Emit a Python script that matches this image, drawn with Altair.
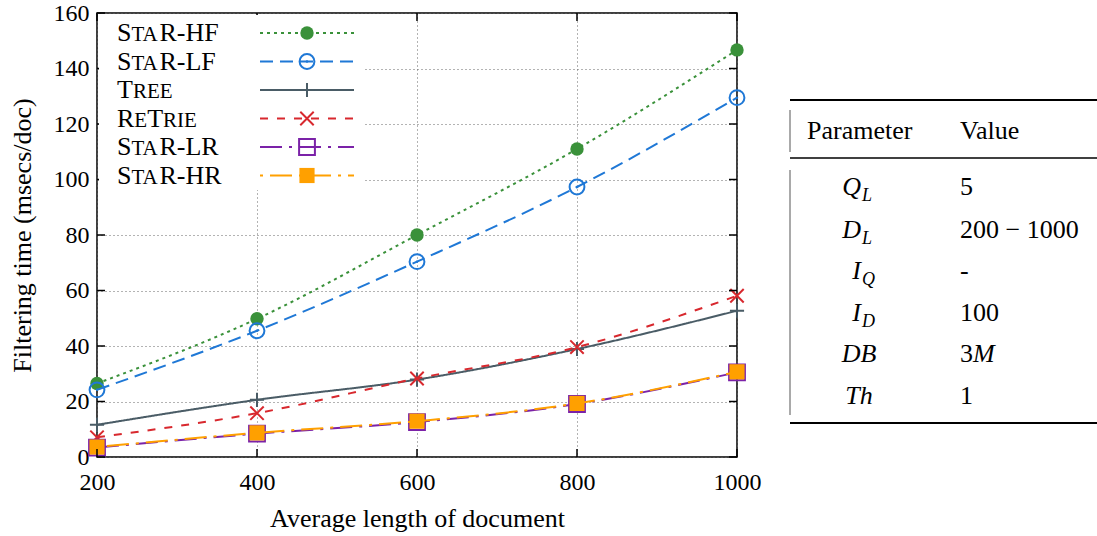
import altair as alt
import pandas as pd

# ---- data -------------------------------------------------------------
doc_len = [200, 400, 600, 800, 1000]
series_names = ["StaR-HF", "StaR-LF", "Tree", "ReTrie", "StaR-LR", "StaR-HR"]
# legend names split into (text, is_small_cap) runs
legend_runs = [
    [("S", 0), ("TA", 1), ("R-HF", 0)],
    [("S", 0), ("TA", 1), ("R-LF", 0)],
    [("T", 0), ("REE", 1)],
    [("R", 0), ("E", 1), ("T", 0), ("RIE", 1)],
    [("S", 0), ("TA", 1), ("R-LR", 0)],
    [("S", 0), ("TA", 1), ("R-HR", 0)],
]
star_hf = [26.5, 49.8, 80.0, 111.0, 146.7]
star_lf = [24.2, 45.5, 70.4, 97.3, 129.5]
tree = [11.6, 20.6, 27.9, 38.9, 52.7]
retrie = [7.1, 15.8, 28.3, 39.6, 58.1]
star_lr = [3.4, 8.4, 12.6, 19.1, 30.5]
star_hr = [3.6, 8.7, 12.9, 19.3, 30.7]
series_values = [star_hf, star_lf, tree, retrie, star_lr, star_hr]

y_ticks = [0, 20, 40, 60, 80, 100, 120, 140, 160]
x_ticks = [200, 400, 600, 800, 1000]

param_main = ["Q", "D", "I", "I", "DB", "Th"]
param_sub = ["L", "L", "Q", "D", "", ""]
value_text = ["5", "200 − 1000", "-", "100", "3", "1"]
value_italic = ["", "", "", "", "M", ""]

# ---- styles -----------------------------------------------------------
FONT = "'Liberation Serif', 'Times New Roman', 'DejaVu Serif', serif"
W, H = 640, 444
CAP, SMALL = 26, 21
# advance widths (em) of the serif face, used to place small-cap runs
ADV = {"S": .556, "T": .611, "A": .722, "R": .667, "E": .611, "I": .333,
       "H": .722, "F": .556, "L": .611, "-": .333}

styles = {
    "StaR-HF": dict(color="#3a913a", dash=[3, 4], shape="circle", filled=True, size=180),
    "StaR-LF": dict(color="#1f78d6", dash=[13, 7], shape="circle", filled=False, size=220),
    "Tree": dict(color="#4a5c66", dash=[1, 0], shape="M-1,0L1,0M0,-1L0,1", filled=False, size=200),
    "ReTrie": dict(color="#d8282e", dash=[8, 9], shape="M-1,-1L1,1M-1,1L1,-1", filled=False, size=180),
    "StaR-LR": dict(color="#7b22a8", dash=[22, 7, 3, 7], shape="square", filled=False, size=250),
    "StaR-HR": dict(color="#ffa000", dash=[3, 7, 22, 7], shape="square", filled=True, size=230),
}

x_scale = alt.Scale(domain=[200, 1000], nice=False, zero=False)
y_scale = alt.Scale(domain=[0, 160], nice=False)

x_axis = alt.Axis(values=x_ticks, format="d", ticks=False, domain=False, grid=True,
                  gridDash=[1, 3], gridColor="#666", labelFont=FONT,
                  labelFontSize=24, labelColor="black", labelPadding=13,
                  title="Average length of document", titleFont=FONT,
                  titleFontSize=26, titleFontWeight="normal", titleColor="black",
                  titlePadding=11, labelFlush=False)
y_axis = alt.Axis(values=y_ticks, format="d", ticks=False, domain=False, grid=True,
                  gridDash=[1, 3], gridColor="#666", labelFont=FONT,
                  labelFontSize=24, labelColor="black", labelPadding=8,
                  title="Filtering time (msecs/doc)", titleFont=FONT,
                  titleFontSize=26, titleFontWeight="normal", titleColor="black",
                  titlePadding=18)

frames = []
for name, vals in zip(series_names, series_values):
    frames.append(pd.DataFrame({"len": doc_len, "time": vals, "series": name}))
df = pd.concat(frames, ignore_index=True)

one = pd.DataFrame({"k": [0]})
layers = []


def text_at(txt, x, y, size=CAP, align="left", baseline="alphabetic", style="normal"):
    return alt.Chart(one).mark_text(
        text=txt, font=FONT, fontSize=size, fontStyle=style, align=align,
        baseline=baseline, color="black").encode(x=alt.value(x), y=alt.value(y))


# invisible base layer that carries the axes and grid
base = alt.Chart(df).mark_point(opacity=0).encode(
    x=alt.X("len:Q", scale=x_scale, axis=x_axis),
    y=alt.Y("time:Q", scale=y_scale, axis=y_axis),
)
layers.append(base)

# series lines and markers
for name in series_names:
    st = styles[name]
    sub = df[df.series == name]
    enc = dict(x=alt.X("len:Q", scale=x_scale), y=alt.Y("time:Q", scale=y_scale))
    layers.append(alt.Chart(sub).mark_line(
        color=st["color"], strokeDash=st["dash"], strokeWidth=2,
        interpolate="monotone").encode(**enc))
    layers.append(alt.Chart(sub).mark_point(
        shape=st["shape"], filled=st["filled"], size=st["size"],
        color=st["color"], strokeWidth=2, opacity=1).encode(**enc))
    if name == "StaR-LF":
        layers.append(alt.Chart(sub).mark_point(
            shape="circle", filled=True, size=6, color=st["color"], opacity=1
        ).encode(**enc))

# inward ticks on all four sides
ty = pd.DataFrame({"v": y_ticks})
tx = pd.DataFrame({"v": x_ticks})
for x0, x1 in [(0, 8), (W - 8, W)]:
    layers.append(alt.Chart(ty).mark_rule(color="black", strokeWidth=1.5).encode(
        y=alt.Y("v:Q", scale=y_scale), x=alt.value(x0), x2=alt.value(x1)))
for y0, y1 in [(H - 8, H), (0, 8)]:
    layers.append(alt.Chart(tx).mark_rule(color="black", strokeWidth=1.5).encode(
        x=alt.X("v:Q", scale=x_scale), y=alt.value(y0), y2=alt.value(y1)))

# legend box
layers.append(alt.Chart(one).mark_rect(color="white").encode(
    x=alt.value(2), x2=alt.value(268), y=alt.value(2), y2=alt.value(177)))
for i, (name, runs) in enumerate(zip(series_names, legend_runs)):
    st = styles[name]
    yy = 20 + 28.5 * i
    layers.append(alt.Chart(one).mark_rule(
        color=st["color"], strokeDash=st["dash"], strokeWidth=2).encode(
        x=alt.value(163), x2=alt.value(257), y=alt.value(yy)))
    layers.append(alt.Chart(one).mark_point(
        shape=st["shape"], filled=st["filled"], size=st["size"],
        color=st["color"], strokeWidth=2, opacity=1).encode(
        x=alt.value(210), y=alt.value(yy)))
    if name == "StaR-LF":
        layers.append(alt.Chart(one).mark_point(
            shape="circle", filled=True, size=6, color=st["color"], opacity=1).encode(
            x=alt.value(210), y=alt.value(yy)))
    xx = 20
    for txt, small in runs:
        size = SMALL if small else CAP
        layers.append(text_at(txt, xx, yy + 8, size=size))
        xx += sum(ADV[c] for c in txt) * size

# parameter table on the right
TL, TR = 693, 1000
for yy, sw in [(87, 2.2), (145, 1.5), (410, 2.2)]:
    layers.append(alt.Chart(one).mark_rule(color="black", strokeWidth=sw).encode(
        x=alt.value(TL), x2=alt.value(TR), y=alt.value(yy)))
for y0, y1 in [(97, 139), (157, 402)]:
    layers.append(alt.Chart(one).mark_rule(color="#555", strokeWidth=1).encode(
        x=alt.value(TL), y=alt.value(y0), y2=alt.value(y1)))

layers.append(text_at("Parameter", 710, 118, baseline="middle"))
layers.append(text_at("Value", 863, 118, baseline="middle"))

row_y = [174, 217, 258, 300, 341, 383]
for yy, m, s, v, vi in zip(row_y, param_main, param_sub, value_text, value_italic):
    if s:
        layers.append(text_at(m, 764, yy, align="right", baseline="middle", style="italic"))
        layers.append(text_at(s, 765, yy + 9, size=18, baseline="middle", style="italic"))
    else:
        layers.append(text_at(m, 762, yy, align="center", baseline="middle", style="italic"))
    layers.append(text_at(v, 863, yy, baseline="middle"))
    if vi:
        layers.append(text_at(vi, 876, yy, baseline="middle", style="italic"))

chart = alt.layer(*layers).properties(
    width=W, height=H,
    padding={"left": 97, "top": 13, "right": 360, "bottom": 79},
    autosize=alt.AutoSizeParams(type="none"),
    background="white",
).configure_view(stroke="black", strokeWidth=1.5)

chart.save("out.html", embed_options={"renderer": "svg", "actions": False})
